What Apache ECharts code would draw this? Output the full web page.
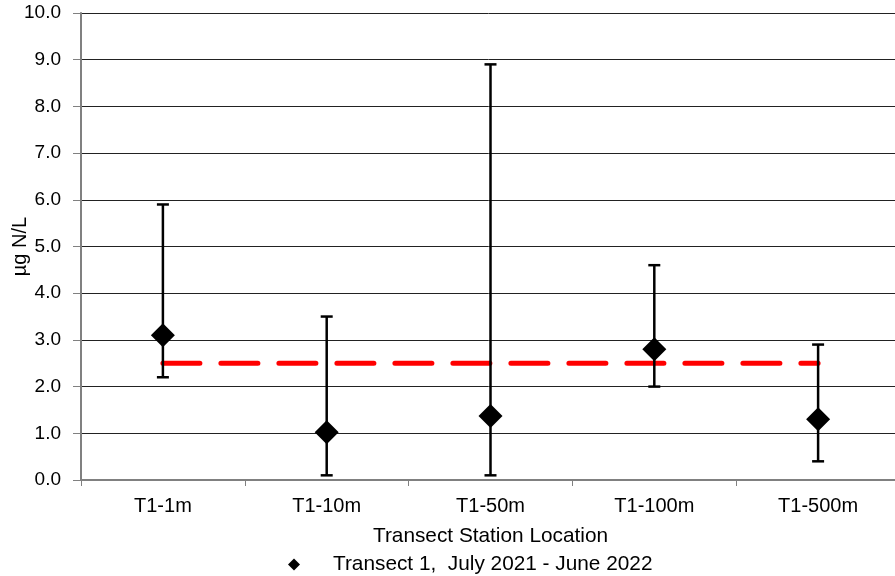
<!DOCTYPE html>
<html>
<head>
<meta charset="utf-8">
<script src="https://cdn.jsdelivr.net/npm/echarts@6/dist/echarts.min.js"></script>
<style>html,body{margin:0;padding:0;background:#fff}#c{width:895px;height:576px}</style>
</head>
<body>
<div id="c"></div>
<script>
var categories = ['T1-1m', 'T1-10m', 'T1-50m', 'T1-100m', 'T1-500m'];
var meanValues = [3.1, 1.02, 1.37, 2.8, 1.3];
var upperValues = [5.9, 3.5, 8.9, 4.6, 2.9];
var lowerValues = [2.2, 0.1, 0.1, 2.0, 0.4];
var referenceValues = [2.5, 2.5, 2.5, 2.5, 2.5];
var yTicks = { min: 0, max: 10, interval: 1 };
var seriesName = 'Transect 1,  July 2021 - June 2022';

var errData = categories.map(function (c, i) { return [i, lowerValues[i], upperValues[i]]; });

var chart = echarts.init(document.getElementById('c'), null, { renderer: 'canvas' });
var font = 'Liberation Sans, Arial, sans-serif';
chart.setOption({
  animation: false,
  backgroundColor: '#fff',
  grid: { left: 81, top: 13, bottom: 96, right: -5, containLabel: false, outerBoundsMode: 'none' },
  xAxis: {
    type: 'category',
    data: categories,
    name: 'Transect Station Location',
    nameLocation: 'middle',
    nameGap: 46,
    nameMoveOverlap: false,
    nameTextStyle: { fontFamily: font, fontSize: 20.8, color: '#000' },
    axisLine: { lineStyle: { color: '#808080', width: 2 } },
    axisTick: { show: true, length: 6, lineStyle: { color: '#808080', width: 1 } },
    axisLabel: { fontFamily: font, fontSize: 20, color: '#000', margin: 16 },
    splitLine: { show: false }
  },
  yAxis: {
    type: 'value',
    min: yTicks.min, max: yTicks.max, interval: yTicks.interval,
    name: 'µg N/L',
    nameLocation: 'middle',
    nameGap: 51,
    nameMoveOverlap: false,
    nameTextStyle: { fontFamily: font, fontSize: 20, color: '#000' },
    axisLine: { show: true, lineStyle: { color: '#808080', width: 2 } },
    axisTick: { show: true, length: 8, lineStyle: { color: '#808080', width: 1 } },
    axisLabel: { fontFamily: font, fontSize: 19, color: '#000', margin: 20,
      formatter: function (v) { return v.toFixed(1); } },
    splitLine: { show: true, lineStyle: { color: '#222', width: 1 } }
  },
  legend: {
    data: [seriesName],
    left: 283, top: 549,
    itemWidth: 12, itemHeight: 12,
    textStyle: { fontFamily: font, fontSize: 20.8, color: '#000', padding: [0, 0, 0, 28] }
  },
  series: [
    {
      type: 'line',
      data: referenceValues,
      symbol: 'none',
      silent: true,
      lineStyle: { color: '#ff0000', width: 5, type: [37, 21], cap: 'round' },
      z: 2
    },
    {
      type: 'custom',
      data: errData,
      z: 3,
      renderItem: function (params, api) {
        var lo = api.coord([api.value(0), api.value(1)]);
        var hi = api.coord([api.value(0), api.value(2)]);
        var hw = 6;
        var st = { stroke: '#000', lineWidth: 2.5 };
        return {
          type: 'group',
          children: [
            { type: 'line', shape: { x1: lo[0], y1: lo[1], x2: hi[0], y2: hi[1] }, style: st },
            { type: 'line', shape: { x1: lo[0] - hw, y1: lo[1], x2: lo[0] + hw, y2: lo[1] }, style: st },
            { type: 'line', shape: { x1: hi[0] - hw, y1: hi[1], x2: hi[0] + hw, y2: hi[1] }, style: st }
          ]
        };
      }
    },
    {
      type: 'scatter',
      name: seriesName,
      data: meanValues,
      symbol: 'diamond',
      symbolSize: [24, 24],
      itemStyle: { color: '#000', opacity: 1 },
      z: 4
    }
  ]
});
</script>
</body>
</html>
